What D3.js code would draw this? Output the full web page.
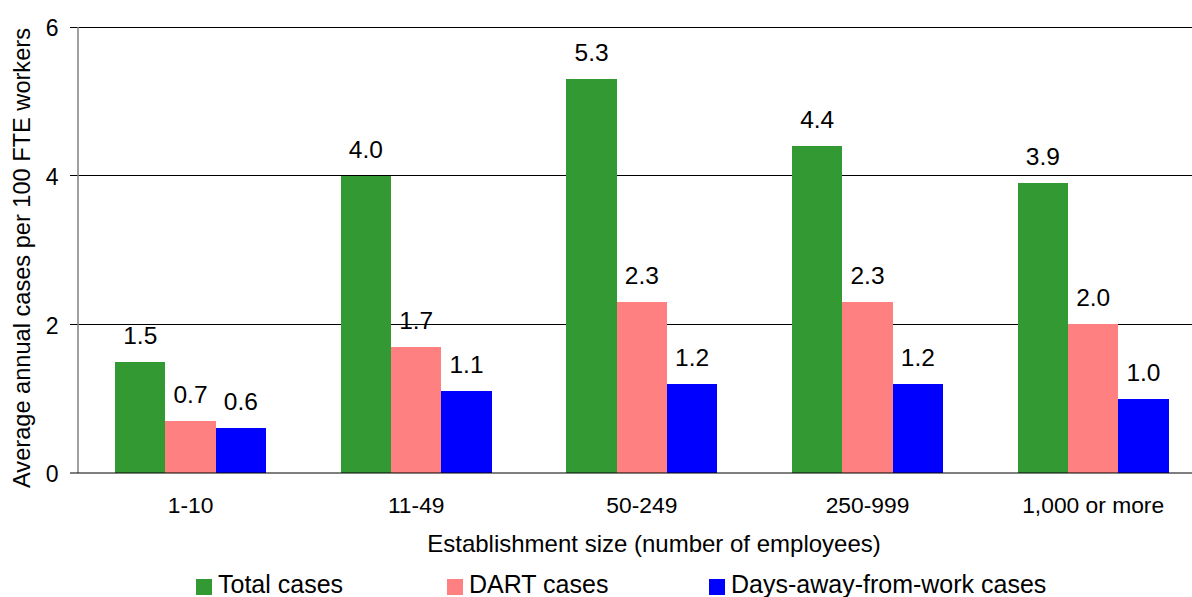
<!DOCTYPE html>
<html>
<head>
<meta charset="utf-8">
<script src="https://cdn.jsdelivr.net/npm/d3@7"></script>
<style>
  html, body { margin: 0; padding: 0; background: #fff; overflow: hidden; }
  svg { display: block; font-family: "Liberation Sans", Arial, sans-serif; }
</style>
</head>
<body>
<svg id="chart" width="1192" height="597"></svg>
<script>
// Establishment size categories
const categories = ["1-10", "11-49", "50-249", "250-999", "1,000 or more"];
// Average annual cases per 100 FTE workers
const totalCases = [1.5, 4.0, 5.3, 4.4, 3.9];
const dartCases = [0.7, 1.7, 2.3, 2.3, 2.0];
const daysAwayCases = [0.6, 1.1, 1.2, 1.2, 1.0];
const seriesNames = ["Total cases", "DART cases", "Days-away-from-work cases"];
const seriesColors = ["#339933", "#FF8080", "#0000FF"];
const yTicks = [0, 2, 4, 6];

const series = [totalCases, dartCases, daysAwayCases];

const svg = d3.select("#chart");
const plot = { left: 78, right: 1206, top: 27, bottom: 473 };

const x0 = d3.scaleBand().domain(categories).range([plot.left - 0.3, plot.right]);
const barW = 50.3;
const x1 = d3.scaleBand().domain(d3.range(series.length))
  .range([-barW * 1.5, barW * 1.5]);
const y = d3.scaleLinear().domain([0, 6]).range([plot.bottom, plot.top]);

// Horizontal gridlines with tick marks to the left of the axis
svg.append("g").selectAll("line").data(yTicks.filter(t => t > 0)).join("line")
  .attr("x1", plot.left - 8).attr("x2", plot.right)
  .attr("y1", d => y(d)).attr("y2", d => y(d))
  .attr("stroke", "#000").attr("stroke-width", 1).attr("shape-rendering", "crispEdges");

// Bars
const groups = svg.append("g").selectAll("g").data(categories).join("g")
  .attr("transform", c => `translate(${x0(c) + x0.bandwidth() / 2},0)`);

groups.selectAll("rect").data((c, i) => series.map((s, k) => ({ k, v: s[i] }))).join("rect")
  .attr("x", d => x1(d.k))
  .attr("width", x1.bandwidth())
  .attr("y", d => y(d.v))
  .attr("height", d => y(0) - y(d.v))
  .attr("fill", d => seriesColors[d.k])
  .attr("shape-rendering", "crispEdges");

// Value labels
groups.selectAll("text").data((c, i) => series.map((s, k) => ({ k, v: s[i] }))).join("text")
  .attr("x", d => x1(d.k) + x1.bandwidth() / 2)
  .attr("y", d => y(d.v) - 18)
  .attr("text-anchor", "middle")
  .attr("font-size", 24.5)
  .attr("fill", "#000")
  .text(d => d.v.toFixed(1));

// Y axis (grey vertical line) and baseline
svg.append("line")
  .attr("x1", plot.left).attr("x2", plot.left)
  .attr("y1", plot.top).attr("y2", plot.bottom)
  .attr("stroke", "#808080").attr("stroke-width", 1.5);
svg.append("line")
  .attr("x1", plot.left - 8).attr("x2", plot.right)
  .attr("y1", plot.bottom).attr("y2", plot.bottom)
  .attr("stroke", "#000").attr("stroke-width", 1.2);

// Y tick labels
svg.append("g").selectAll("text").data(yTicks).join("text")
  .attr("x", 58.5)
  .attr("y", d => y(d) + 1)
  .attr("dy", "0.36em")
  .attr("text-anchor", "end")
  .attr("font-size", 23)
  .text(d => d);

// Category labels
svg.append("g").selectAll("text").data(categories).join("text")
  .attr("x", c => x0(c) + x0.bandwidth() / 2)
  .attr("y", 513)
  .attr("text-anchor", "middle")
  .attr("font-size", 22.8)
  .text(c => c);

// Axis titles
svg.append("text")
  .attr("x", 654).attr("y", 552)
  .attr("text-anchor", "middle")
  .attr("font-size", 24)
  .text("Establishment size (number of employees)");

svg.append("text")
  .attr("transform", "translate(29.5,258) rotate(-90)")
  .attr("text-anchor", "middle")
  .attr("font-size", 23.6)
  .text("Average annual cases per 100 FTE workers");

// Legend
const legendX = [196, 447, 709];
const legend = svg.append("g").selectAll("g").data(seriesNames).join("g")
  .attr("transform", (d, i) => `translate(${legendX[i]},579)`);
legend.append("rect").attr("width", 16).attr("height", 16)
  .attr("fill", (d, i) => seriesColors[i]);
legend.append("text").attr("x", 22).attr("y", 14)
  .attr("font-size", 25).text(d => d);
</script>
</body>
</html>
